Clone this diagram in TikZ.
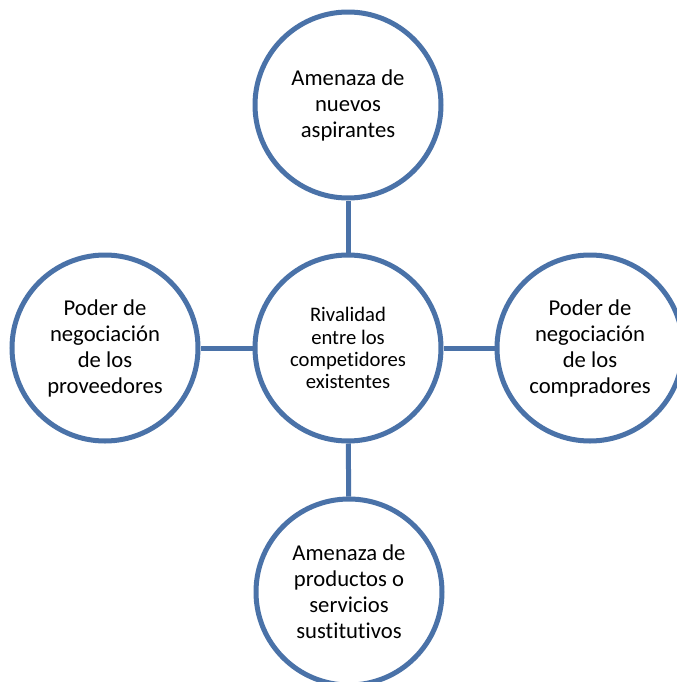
\documentclass[tikz,border=0pt]{standalone}
\usepackage{fontspec}
\setmainfont[Ligatures=NoCommon]{Carlito}
\usepackage{tikz}
\usetikzlibrary{calc}
\definecolor{porterblue}{RGB}{74,114,168}
\tikzstyle{force}=[circle,draw=porterblue,line width=3.75pt,fill=white,minimum size=139.5pt,inner sep=0pt,align=center,font=\fontsize{17}{19.5}\selectfont]
\tikzstyle{rivalry}=[force,font=\fontsize{15.5}{16.6}\selectfont]
\tikzstyle{link} = [draw,porterblue,line width=3.75pt]

\begin{document}
\begin{tikzpicture}[x=0.75pt,y=-0.75pt]
    \clip (0,0) rectangle (677,682);
    \fill[white] (0,0) rectangle (677,682);

    \node[rivalry] (rival) at (348,348) {Rivalidad\\entre los\\competidores\\existentes};

    \foreach \pos/ \name/ \txt in {{(348,105)/nuevos/{Amenaza de\\nuevos\\aspirantes}},
        {(105,348)/proveedores/{Poder de\\negociación\\de los\\proveedores}},
        {(590,348)/compradores/{Poder de\\negociación\\de los\\compradores}},
        {(349,592)/sustitutos/{Amenaza de\\productos o\\servicios\\sustitutivos}}}
        \node[force] (\name) at \pos {\txt};

    % Connect the forces with the rivalry
    \foreach \source/ \dest in {rival/nuevos, rival/proveedores, rival/compradores, rival/sustitutos}
        \path[link] (\source) -- (\dest);

\end{tikzpicture}
\end{document}
